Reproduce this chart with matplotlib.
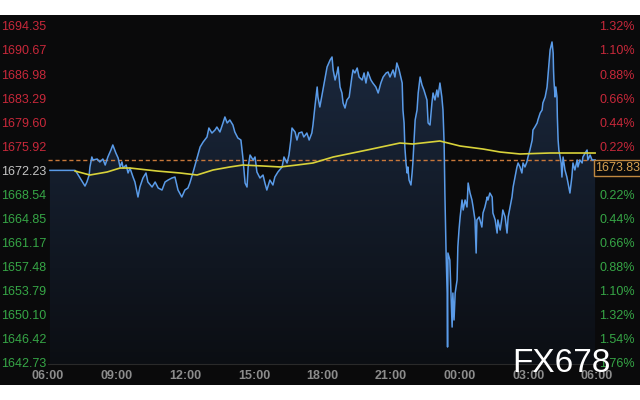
import numpy as np
import matplotlib.pyplot as plt
from matplotlib.patches import Rectangle

plt.rcParams['font.family'] = ['Liberation Sans', 'DejaVu Sans']

prev_close = 1672.23
last_price = 1673.83

# minutes after 06:00
price_min = [5, 71, 76, 84, 92, 97, 102, 108, 110, 115, 118, 129, 136, 144, 150, 157, 165, 170, 178, 184,
             189, 194, 197, 205, 210, 215, 223, 228, 236, 241, 249, 257, 262, 273, 281, 289, 299, 307, 315, 325,
             333, 341, 351, 359, 367,
             372, 380, 391, 399, 407, 417, 422, 430, 438, 443, 451, 459, 464, 470, 477, 485, 490, 498, 506, 511,
             517, 522, 525, 530, 538, 543, 548, 556, 564, 569, 574, 582, 590, 595, 603, 614, 619, 627, 632, 637,
             640, 648, 653, 658, 666, 671, 679, 685, 692, 695,
             700, 706, 708, 713, 721, 727, 732, 740, 745, 748, 753, 758, 761, 766, 771, 774, 779, 784, 790, 797,
             800, 805, 811, 816, 824, 829, 834, 839, 847, 852, 860, 866, 873, 879, 887, 892, 897, 905, 910, 915,
             921, 926, 929, 931, 934, 936, 939, 942, 944, 947, 952, 955, 957, 963, 968, 971, 976, 981, 986, 994,
             997, 1002,
             1007, 1010, 1015, 1020, 1023, 1028, 1033, 1036, 1039, 1041, 1044, 1047, 1048, 1049, 1054, 1057, 1060,
             1062, 1065, 1068, 1073, 1075, 1078, 1081, 1086, 1089, 1094, 1099, 1102, 1107, 1112, 1115, 1120, 1123,
             1125, 1131, 1138, 1141, 1146, 1152, 1154, 1159, 1165, 1167, 1173, 1178, 1180, 1186, 1191, 1193, 1199,
             1204, 1207, 1212, 1217, 1220, 1225, 1230, 1233,
             1238, 1243, 1246, 1251, 1256, 1259, 1264, 1270, 1272, 1277, 1283, 1285, 1291, 1296, 1298, 1304, 1309,
             1312, 1314, 1317, 1322, 1325, 1326, 1327, 1330, 1332, 1335, 1336, 1338, 1340, 1346, 1348, 1351, 1356,
             1361, 1364, 1369, 1374, 1377, 1382, 1388, 1390, 1395, 1401, 1403, 1409, 1414, 1416, 1422, 1427, 1435]
price_val = [1672.23, 1672.23, 1671.83, 1671.06, 1670.29, 1669.83, 1670.45, 1671.52, 1672.75, 1674.28,
             1673.82, 1673.97, 1673.51, 1673.97, 1673.05, 1674.28, 1675.35, 1676.12, 1674.89, 1674.12,
             1672.75, 1673.51, 1672.59, 1673.05, 1671.83, 1672.59, 1671.21, 1670.45, 1668.15, 1669.68,
             1671.06, 1671.83, 1670.45, 1669.68, 1670.45, 1669.53, 1669.22, 1670.45, 1670.75, 1671.06,
             1671.21, 1669.22, 1668.15, 1669.22, 1669.53,
             1670.29, 1671.83, 1674.12, 1675.81, 1676.58, 1677.34, 1678.72, 1677.95, 1678.41, 1678.87,
             1678.11, 1679.49, 1680.41, 1679.49, 1679.95, 1679.18, 1678.11, 1677.19, 1676.88, 1674.28,
             1670.29, 1669.68, 1672.75, 1674.58, 1673.82, 1674.28, 1671.98, 1671.06, 1671.52, 1670.29,
             1669.22, 1670.75, 1669.99, 1671.21, 1671.98, 1672.75, 1674.28, 1673.36, 1674.58, 1676.88,
             1678.72, 1678.11, 1676.88, 1677.95, 1678.11, 1677.34, 1677.95, 1676.88, 1677.95, 1679.18,
             1681.94, 1685.00, 1683.47, 1681.94, 1684.54, 1686.53, 1688.07, 1689.14, 1689.60, 1687.61,
             1686.07, 1687.15, 1688.07, 1685.00, 1684.08, 1682.55, 1681.78, 1683.01, 1683.47, 1686.53,
             1687.61, 1687.15, 1687.91, 1686.53, 1686.07, 1687.15, 1685.61, 1687.30, 1686.07, 1685.61,
             1685.00, 1684.08, 1685.61, 1686.53, 1687.15, 1687.30, 1686.53, 1687.61, 1686.53, 1688.68,
             1687.61, 1686.38, 1685.61, 1681.48, 1679.49, 1675.81, 1673.36, 1671.83, 1672.75, 1670.75,
             1669.99, 1671.83, 1673.36, 1679.95, 1681.48, 1684.08, 1686.53, 1685.30, 1684.54, 1683.01,
             1679.49, 1679.18,
             1682.55, 1684.08, 1683.01, 1684.54, 1683.47, 1685.61, 1683.47, 1681.48, 1676.42, 1668.76,
             1660.03, 1653.44, 1645.17, 1659.57, 1658.50, 1653.44, 1648.23, 1653.44, 1649.31, 1653.44,
             1655.43, 1660.49, 1663.09, 1665.09, 1667.69, 1666.16, 1667.69, 1666.62, 1670.29, 1668.76,
             1667.69, 1666.62, 1664.63, 1659.57, 1664.63, 1665.09, 1663.55, 1665.70, 1666.62, 1668.15,
             1667.69, 1668.76, 1668.15, 1665.70, 1664.63, 1662.63, 1664.63, 1663.09, 1665.09, 1666.16,
             1665.09, 1662.63, 1665.09, 1666.62, 1668.15, 1669.68, 1671.21, 1672.75, 1673.36,
             1672.75, 1671.83, 1673.36, 1672.75, 1673.51, 1674.28, 1675.35, 1676.88, 1678.41, 1678.87,
             1679.49, 1679.95, 1681.02, 1681.48, 1682.55, 1683.47, 1685.00, 1687.15, 1688.68, 1690.67,
             1691.90, 1690.21, 1687.61, 1686.07, 1683.47, 1685.00, 1683.47, 1680.41, 1676.88, 1675.35,
             1673.36, 1671.21, 1674.28, 1672.29, 1671.21, 1670.29, 1668.76, 1671.21, 1673.36, 1672.29,
             1673.82, 1672.75, 1673.82, 1673.36, 1674.28, 1674.89, 1675.35, 1673.82, 1674.58, 1673.82,
             1673.83]

# average price line
avg_min = [71, 110, 155, 189, 215, 286, 346, 391, 433, 477, 511, 564, 609, 653, 695, 748, 837, 923, 957,
           1028, 1081, 1141, 1186, 1238, 1317, 1435]
avg_val = [1672.13, 1671.52, 1671.98, 1672.59, 1672.59, 1672.13, 1671.83, 1671.52, 1672.29, 1672.75,
           1673.05, 1672.90, 1672.75, 1673.05, 1673.36, 1674.28, 1675.35, 1676.42, 1676.27, 1676.73,
           1675.96, 1675.50, 1675.04, 1674.74, 1674.89, 1674.89]

x_ticks = [0, 180, 360, 540, 720, 900, 1080, 1260, 1440]
x_labels = ['06:00', '09:00', '12:00', '15:00', '18:00', '21:00', '00:00', '03:00', '06:00']
levels = [1694.35, 1690.67, 1686.98, 1683.29, 1679.60, 1675.92, 1672.23, 1668.54, 1664.85,
          1661.17, 1657.48, 1653.79, 1650.10, 1646.42, 1642.73]

bg = '#0a0a0b'
red = '#c8283a'
green = '#36a646'

fig = plt.figure(figsize=(6.4, 4), dpi=100)
fig.patch.set_facecolor('white')
fig.add_artist(Rectangle((0, 15 / 400), 1, 370 / 400, transform=fig.transFigure,
                         facecolor=bg, edgecolor='none', zorder=-5))

ax = fig.add_axes([48 / 640, 36 / 400, 549 / 640, 349 / 400])
ax.patch.set_alpha(0)
ylo, yhi = 1642.57, 1696.03

# gradient fill under the price line
poly = ax.fill_between(price_min, price_val, ylo, color='none', lw=0)
g = np.linspace(1, 0, 256)[:, None, None]
top_c = np.array([0.105, 0.160, 0.245])
bot_c = np.array([0.045, 0.055, 0.075])
img = bot_c + (top_c - bot_c) * g
im = ax.imshow(img, extent=[0, 1440, ylo, max(price_val)], aspect='auto', zorder=1)
im.set_clip_path(poly.get_paths()[0], transform=ax.transData)

ax.axhline(last_price, color='#c8783a', lw=1, ls=(0, (3, 2)), zorder=2)
ax.plot(price_min, price_val, color='#5a9be8', lw=1.1, zorder=3)
ax.plot(avg_min, avg_val, color='#d8d23a', lw=1.2, zorder=4)

ax.set_xlim(0, 1440)
ax.set_ylim(ylo, yhi)
for s in ['top', 'left', 'right']:
    ax.spines[s].set_visible(False)
ax.spines['bottom'].set_color('#2a2a2a')

ax.set_xticks(x_ticks)
ax.set_xticklabels(x_labels)
ax.tick_params(axis='x', length=0, pad=4.5, labelsize=9, labelcolor='#8c8c8c')
for t in ax.get_xticklabels():
    t.set_fontweight('bold')

ax.set_yticks(levels)
ax.set_yticklabels(['%.2f' % v for v in levels])
ax.tick_params(axis='y', length=0, pad=1, labelsize=9)
for v, t in zip(levels, ax.get_yticklabels()):
    if v > prev_close:
        t.set_color(red)
    elif v < prev_close:
        t.set_color(green)
    else:
        t.set_color('#c4c4c4')

ax2 = ax.twinx()
ax2.set_ylim(ylo, yhi)
for s in ax2.spines.values():
    s.set_visible(False)
pct = ['' if v == prev_close else '%.2f%%' % (abs(v - prev_close) / prev_close * 100) for v in levels]
ax2.set_yticks(levels)
ax2.set_yticklabels(pct)
ax2.tick_params(axis='y', length=0, pad=1.5, labelsize=9)
for v, t in zip(levels, ax2.get_yticklabels()):
    t.set_color(red if v > prev_close else green)

fig.text(618 / 640, 1 - 168 / 400, '%.2f' % last_price, color='#d6a050', fontsize=9,
         ha='center', va='center',
         bbox=dict(boxstyle='square,pad=0.15', facecolor=bg, edgecolor='#c08840', lw=1))

fig.text(561 / 640, 1 - 364 / 400, 'FX678', color='white', fontsize=24,
         ha='center', va='center')

fig.savefig('out.png', dpi=100, facecolor=fig.get_facecolor())
